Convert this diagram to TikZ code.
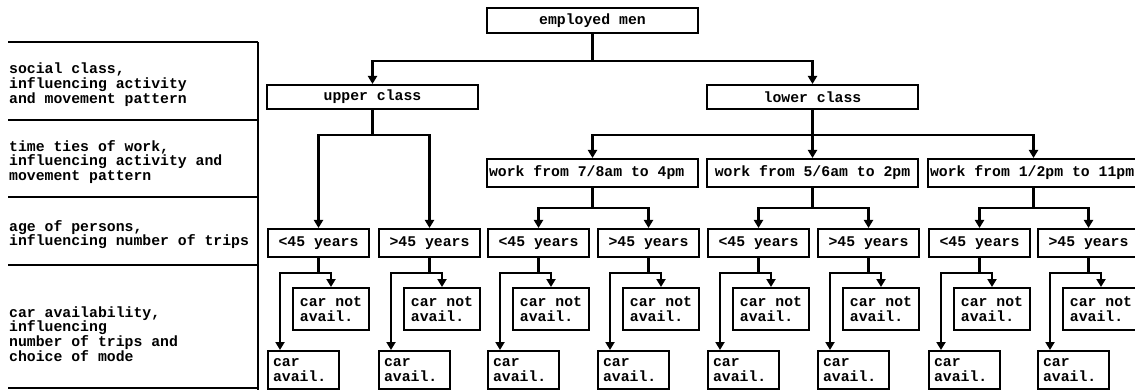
\documentclass[tikz,border=0pt]{standalone}
\usepackage{fontspec}
\setmainfont{Liberation Mono}[WordSpace={1,0,0}]
\usetikzlibrary{arrows.meta,calc}
\begin{document}
\begin{tikzpicture}[x=1pt,y=-1pt,
  every node/.style={font=\fontsize{14.8}{14.8}\selectfont\bfseries},
  box/.style={draw, line width=2pt, anchor=north west, inner sep=0pt},
  widebox/.style={box, minimum width=211pt, minimum height=25pt},
  workbox/.style={box, minimum width=211pt, minimum height=28pt},
  agebox/.style={box, minimum width=101pt, minimum height=28pt},
  notbox/.style={box, minimum width=76pt, minimum height=42pt, align=left},
  carbox/.style={box, minimum height=38pt, text width=61pt, inner xsep=5pt},
  conn/.style={line width=2.3pt, -{Triangle[length=8pt,width=9pt]}},
  rowtext/.style={anchor=west, align=left, inner sep=0pt},
  rule/.style={line width=2pt}]
\useasboundingbox (0,0) rectangle (1135,390);
\clip (0,0) rectangle (1135,390);

% row headings on the left
\draw[rule] (8,42) -- (258,42);
\draw[rule] (8,120) -- (258,120);
\draw[rule] (8,197) -- (258,197);
\draw[rule] (8,265) -- (258,265);
\draw[rule] (8,388) -- (258,388);
\draw[rule] (258,42) -- (258,390);
\node[rowtext] (r1) at (9,84.5) {social class,\\influencing activity\\and movement pattern};
\node[rowtext] (r2) at (9,162) {time ties of work,\\influencing activity and\\movement pattern};
\node[rowtext] (r3) at (9,234.5) {age of persons,\\influencing number of trips};
\node[rowtext] (r4) at (9,334) {car availability,\\influencing\\number of trips and\\choice of mode};

% tree: population, class, working hours
\node[widebox] (em) at (486,7) {employed men};
\node[widebox, minimum height=24pt] (up) at (266,84) {upper class};
\node[widebox, minimum height=24pt] (lo) at (706,84) {lower class};
\node[workbox] (w1) at (486,158) {\hbox to 207pt{work from 7/8am to 4pm\hfil}};
\node[workbox] (w2) at (706,158) {\hbox to 207pt{\hfil work from 5/6am to 2pm\hfil}};
\node[workbox] (w3) at (927,158) {\hbox to 207pt{work from 1/2pm to 11pm\hfil}};

\draw[conn] (em.south) -- ++(0,27) -| (up.north);
\draw[conn] (em.south) -- ++(0,27) -| (lo.north);
\draw[conn] (lo.south) -- ++(0,25) -| (w1.north);
\draw[conn] (lo.south) -- ++(0,25) -| (w2.north);
\draw[conn] (lo.south) -- ++(0,25) -| (w3.north);

% age groups and car availability
\foreach \L/\n/\s in {267/1/<,378/2/>,487/3/<,597/4/>,707/5/<,817/6/>,928/7/<,1037/8/>} {
  \node[agebox] (a\n) at (\L,228) {\s45 years};
  \node[notbox] (n\n) at (\L+25,287) {car not\\avail.};
  \node[carbox] (c\n) at (\L,350) {car\\avail.};
  \draw[conn] (a\n.south) -- ++(0,15) -| (n\n.north);
  \draw[conn] (a\n.south) -- ++(0,15) -| ($(c\n.north west)+(13,0)$);
}

\draw[conn] (up.south) -- ++(0,25) -| (a1.north);
\draw[conn] (up.south) -- ++(0,25) -| (a2.north);
\draw[conn] (w1.south) -- ++(0,20) -| (a3.north);
\draw[conn] (w1.south) -- ++(0,20) -| (a4.north);
\draw[conn] (w2.south) -- ++(0,20) -| (a5.north);
\draw[conn] (w2.south) -- ++(0,20) -| (a6.north);
\draw[conn] (w3.south) -- ++(0,20) -| (a7.north);
\draw[conn] (w3.south) -- ++(0,20) -| (a8.north);
\end{tikzpicture}
\end{document}
